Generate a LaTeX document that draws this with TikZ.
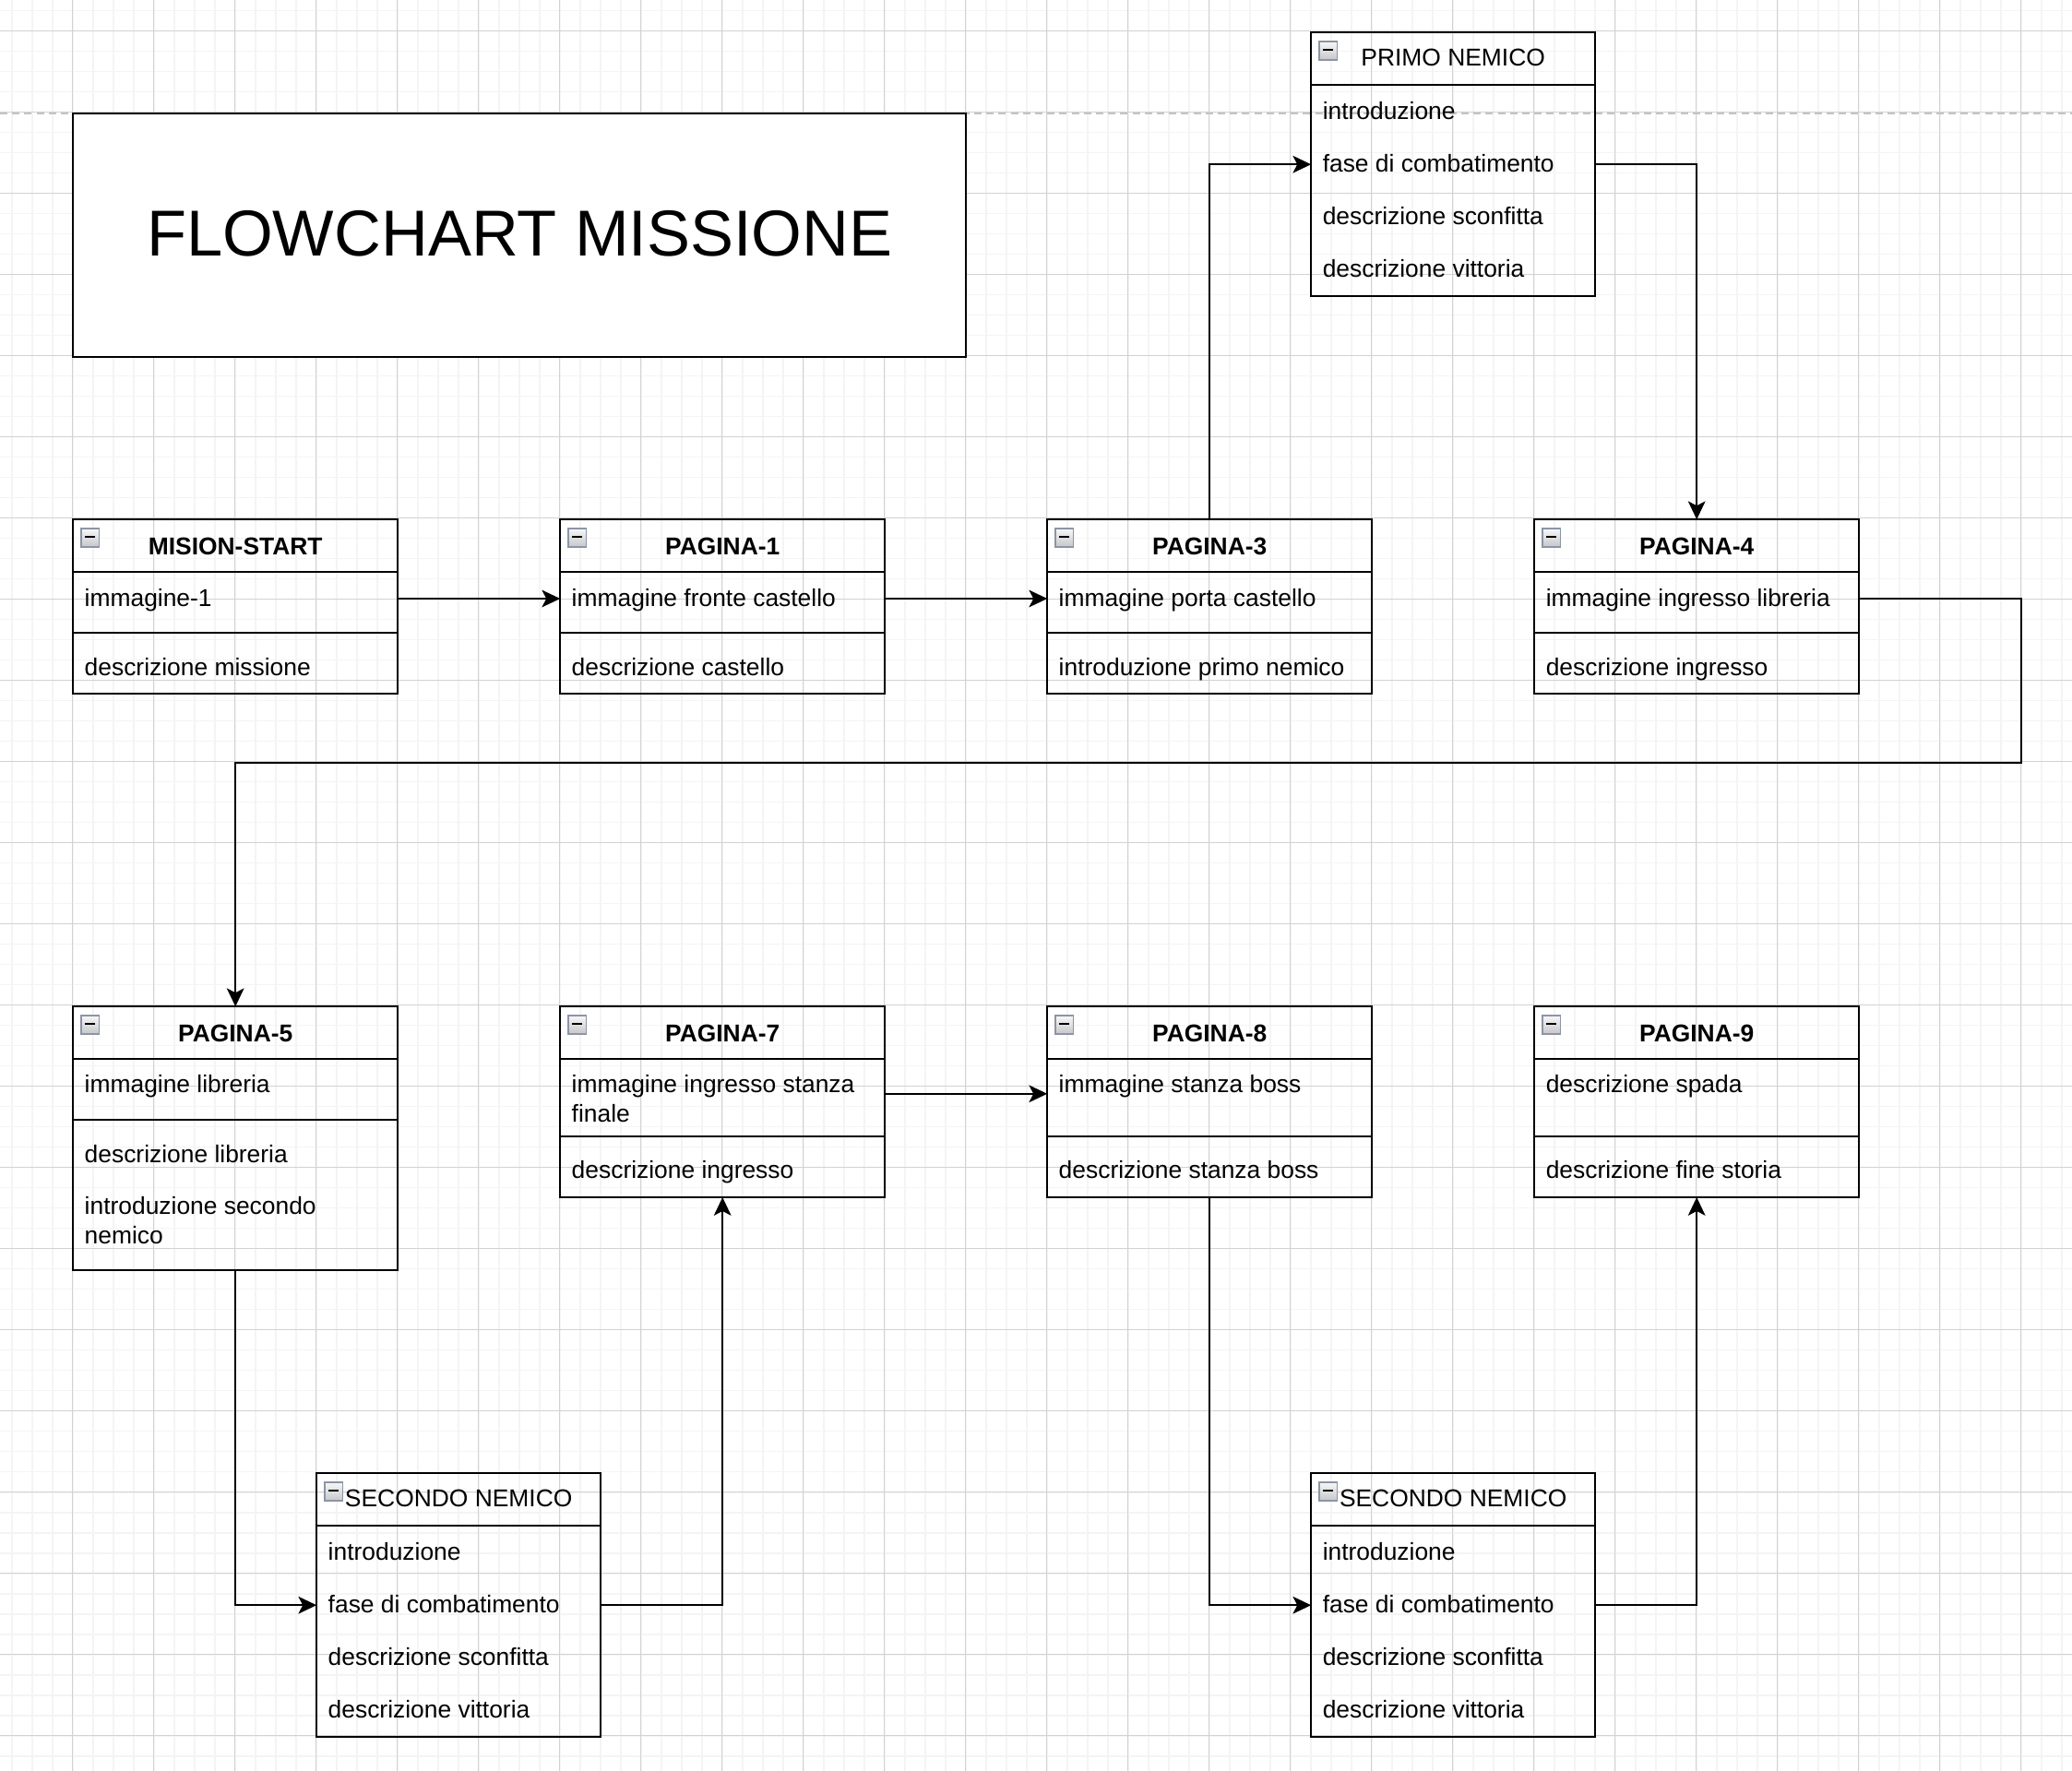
\documentclass[tikz,border=0pt]{standalone}
\usepackage{fontspec}
\setmainfont{Liberation Sans}
\usetikzlibrary{arrows.meta}
\definecolor{gridminor}{HTML}{F4F4F4}
\definecolor{gridmajor}{HTML}{D2D2D2}
\definecolor{pagebreak}{HTML}{C4C4C4}
\definecolor{iconedge}{HTML}{8C95A6}
\definecolor{icontop}{HTML}{F7F7F7}
\definecolor{iconbot}{HTML}{C6C7CA}
\tikzset{
  frame/.style={draw=black, line width=0.9pt, inner sep=0pt, outer sep=0pt, anchor=north west},
  rowarea/.style={inner sep=0pt, outer sep=0pt, anchor=north west},
  rowtext/.style={anchor=base west, inner sep=0pt, font=\fontsize{12}{14.4}\selectfont},
  hdrtext/.style={anchor=base, inner sep=0pt, font=\fontsize{12}{14.4}\selectfont},
  divider/.style={line width=0.9pt},
  conn/.style={line width=0.9pt, -{Stealth[length=9pt,width=8.5pt,inset=2.2pt]}},
}
\newcommand{\collapseicon}[2]{%
  \draw[draw=iconedge, line width=0.6pt, top color=icontop, bottom color=iconbot] (#1+4,#2+4.5) rectangle ++(9,9);
  \draw[line width=0.9pt] (#1+6,#2+8.6) -- ++(5,0);}
% two-row page box: name, x, y, title, row1, row2
\newcommand{\pagebox}[6]{%
  \node[frame, minimum width=160pt, minimum height=86pt] (#1) at (#2,#3) {};
  \draw[divider] (#2,#3+26) -- (#2+160,#3+26);
  \draw[divider] (#2,#3+56) -- (#2+160,#3+56);
  \node[rowarea, minimum width=160pt, minimum height=26pt] (#1-r1) at (#2,#3+26) {};
  \node[rowarea, minimum width=160pt, minimum height=26pt] (#1-r2) at (#2,#3+60) {};
  \node[hdrtext] (#1-h) at (#2+80,#3+17.2) {\bfseries #4};
  \node[rowtext] (#1-a) at (#2+5.5,#3+43) {#5};
  \node[rowtext] (#1-b) at (#2+5.5,#3+77) {#6};
  \collapseicon{#2}{#3}}
% page box with taller first row: name, x, y, title, row1 line1, row1 line2, row2
\newcommand{\tallbox}[7]{%
  \node[frame, minimum width=160pt, minimum height=94pt] (#1) at (#2,#3) {};
  \draw[divider] (#2,#3+26) -- (#2+160,#3+26);
  \draw[divider] (#2,#3+64) -- (#2+160,#3+64);
  \node[rowarea, minimum width=160pt, minimum height=34pt] (#1-r1) at (#2,#3+26) {};
  \node[rowarea, minimum width=160pt, minimum height=26pt] (#1-r2) at (#2,#3+68) {};
  \node[hdrtext] (#1-h) at (#2+80,#3+17.2) {\bfseries #4};
  \node[rowtext] (#1-a) at (#2+5.5,#3+42.6) {#5};
  \node[rowtext] (#1-a2) at (#2+5.5,#3+57) {#6};
  \node[rowtext] (#1-b) at (#2+5.5,#3+84.8) {#7};
  \collapseicon{#2}{#3}}
% enemy box: name, x, y, title
\newcommand{\enemybox}[4]{%
  \node[frame, minimum width=140pt, minimum height=130pt] (#1) at (#2,#3) {};
  \draw[divider] (#2,#3+26) -- (#2+140,#3+26);
  \node[rowarea, minimum width=140pt, minimum height=26pt] (#1-r1) at (#2,#3+26) {};
  \node[rowarea, minimum width=140pt, minimum height=26pt] (#1-r2) at (#2,#3+52) {};
  \node[rowarea, minimum width=140pt, minimum height=26pt] (#1-r3) at (#2,#3+78) {};
  \node[rowarea, minimum width=140pt, minimum height=26pt] (#1-r4) at (#2,#3+104) {};
  \node[hdrtext] (#1-h) at (#2+70,#3+16.6) {#4};
  \node[rowtext] (#1-a) at (#2+5.5,#3+42.8) {introduzione};
  \node[rowtext] (#1-b) at (#2+5.5,#3+68.8) {fase di combatimento};
  \node[rowtext] (#1-c) at (#2+5.5,#3+94.8) {descrizione sconfitta};
  \node[rowtext] (#1-d) at (#2+5.5,#3+120.8) {descrizione vittoria};
  \collapseicon{#2}{#3}}
\begin{document}
\begin{tikzpicture}[x=1pt, y=-1pt]
\useasboundingbox (0,0) rectangle (1020.91,872.73);
% grid
\begin{scope}
\clip (0,0) rectangle (1020.91,872.73);
\fill[white] (0,0) rectangle (1020.91,872.73);
\foreach \i in {0,...,101} {\draw[gridminor, line width=0.75pt] ({5.8+10*\i},0) -- ({5.8+10*\i},872.73);}
\foreach \j in {0,...,86} {\draw[gridminor, line width=0.75pt] (0,{5.3+10*\j}) -- (1020.91,{5.3+10*\j});}
\foreach \i in {0,...,24} {\draw[gridmajor, line width=0.45pt] ({35.8+40*\i},0) -- ({35.8+40*\i},872.73);}
\foreach \j in {0,...,21} {\draw[gridmajor, line width=0.45pt] (0,{15.3+40*\j}) -- (1020.91,{15.3+40*\j});}
\end{scope}
% page break
\draw[pagebreak, line width=0.9pt, dash pattern=on 3.6pt off 2.4pt] (0,56) -- (1020.91,56);
% title
\node[frame, fill=white, minimum width=440pt, minimum height=120pt, font=\fontsize{32}{38}\selectfont] (title) at (36,56) {\raisebox{1.8pt}{FLOWCHART MISSIONE}};
% row 2
\pagebox{ms}{36}{256}{MISION-START}{immagine-1}{descrizione missione}
\pagebox{p1}{276}{256}{PAGINA-1}{immagine fronte castello}{descrizione castello}
\pagebox{p3}{516}{256}{PAGINA-3}{immagine porta castello}{introduzione primo nemico}
\pagebox{p4}{756}{256}{PAGINA-4}{immagine ingresso libreria}{descrizione ingresso}
% enemies
\enemybox{pn}{646}{16}{PRIMO NEMICO}
\enemybox{sl}{156}{726}{SECONDO NEMICO}
\enemybox{sr}{646}{726}{SECONDO NEMICO}
% PAGINA-5
\node[frame, minimum width=160pt, minimum height=130pt] (p5) at (36,496) {};
\draw[divider] (36,522) -- (196,522);
\draw[divider] (36,552) -- (196,552);
\node[rowarea, minimum width=160pt, minimum height=26pt] (p5-r1) at (36,522) {};
\node[rowarea, minimum width=160pt, minimum height=26pt] (p5-r2) at (36,556) {};
\node[rowarea, minimum width=160pt, minimum height=44pt] (p5-r3) at (36,582) {};
\node[hdrtext] (p5-h) at (116,513.2) {\bfseries PAGINA-5};
\node[rowtext] (p5-a) at (41.5,538.6) {immagine libreria};
\node[rowtext] (p5-b) at (41.5,573) {descrizione libreria};
\node[rowtext] (p5-c) at (41.5,598.5) {introduzione secondo};
\node[rowtext] (p5-c2) at (41.5,612.9) {nemico};
\collapseicon{36}{496}
% row 3
\tallbox{p7}{276}{496}{PAGINA-7}{immagine ingresso stanza}{finale}{descrizione ingresso}
\tallbox{p8}{516}{496}{PAGINA-8}{immagine stanza boss}{}{descrizione stanza boss}
\tallbox{p9}{756}{496}{PAGINA-9}{descrizione spada}{}{descrizione fine storia}
% connectors
\draw[conn] (ms-r1.east) -- (p1-r1.west);
\draw[conn] (p1-r1.east) -- (p3-r1.west);
\draw[conn] (p3.north) |- (pn-r2.west);
\draw[conn] (pn-r2.east) -| (p4.north);
\coordinate (bend) at (996,376);
\draw[conn] (p4-r1.east) -| (bend) -| (p5.north);
\draw[conn] (p5.south) |- (sl-r2.west);
\draw[conn] (sl-r2.east) -| (p7.south);
\draw[conn] (p7-r1.east) -- (p8-r1.west);
\draw[conn] (p8.south) |- (sr-r2.west);
\draw[conn] (sr-r2.east) -| (p9.south);
\end{tikzpicture}
\end{document}
